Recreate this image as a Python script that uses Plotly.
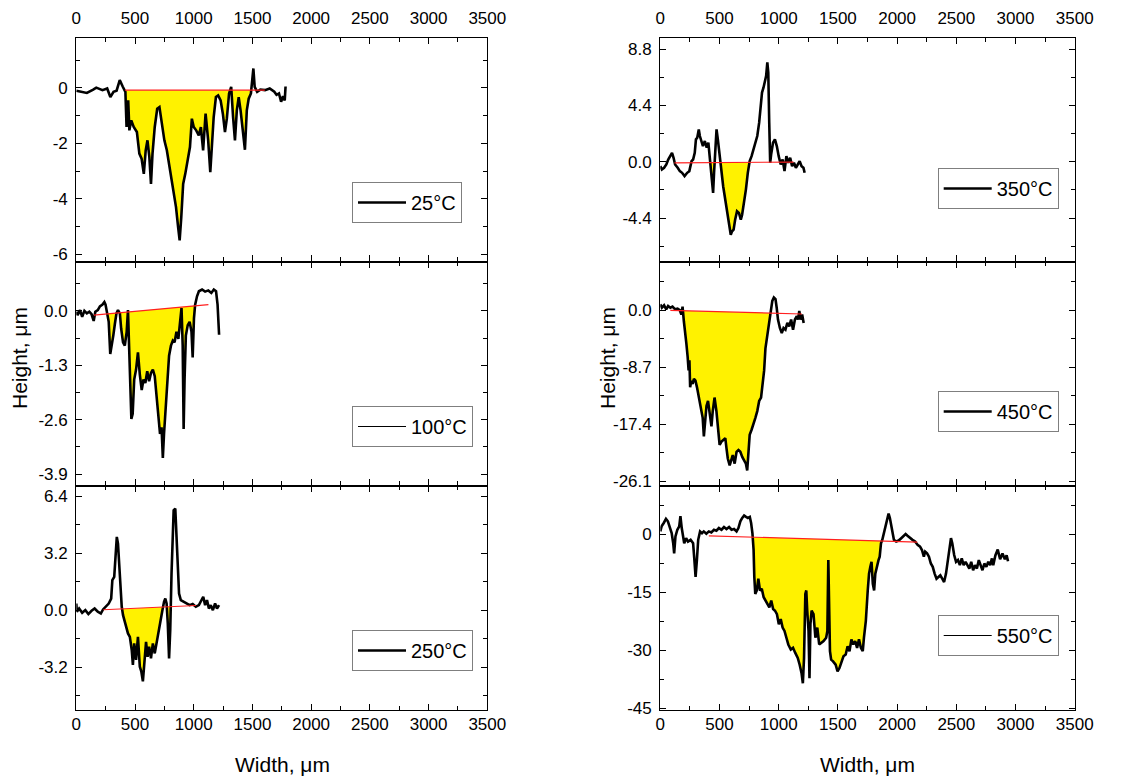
import numpy as np
import plotly.graph_objects as go

# ---------------- data ----------------
x_ticks = [0, 500, 1000, 1500, 2000, 2500, 3000, 3500]
x_tick_labels = ["0", "500", "1000", "1500", "2000", "2500", "3000", "3500"]

temperatures = ["25°C", "100°C", "250°C", "350°C", "450°C", "550°C"]

profile_25c = [(0,-0.10),(37,-0.14),(90,-0.18),(144,-0.06),(170,0.01),(223,-0.08),(263,-0.02),(290,-0.33),(317,-0.14),(343,-0.10),
    (370,0.28),(396,0.04),(418,-0.14),(428,-1.41),(442,-0.45),(452,-1.53),(468,-1.17),(489,-1.41),(516,-1.59),(537,-2.37),
    (556,-2.55),(575,-3.10),(591,-2.25),(606,-1.89),(622,-2.49),(636,-3.46),(649,-2.37),(668,-1.41),(689,-0.75),(708,-0.69),
    (729,-1.23),(750,-1.89),(771,-2.25),(795,-2.86),(822,-3.58),(849,-4.30),(867,-5.02),(880,-5.50),(894,-4.66),(910,-3.46),
    (928,-3.10),(947,-2.61),(968,-2.13),(984,-1.11),(1000,-1.41),(1021,-1.53),(1043,-1.71),(1061,-1.41),(1080,-2.25),(1101,-0.93),
    (1123,-1.89),(1141,-3.04),(1154,-2.01),(1170,-1.05),(1189,-0.33),(1208,-0.27),(1229,-0.45),(1248,-0.93),(1266,-1.59),(1282,-1.11),
    (1301,-0.20),(1319,0.04),(1335,-1.05),(1351,-1.89),(1367,-0.81),(1383,-0.33),(1399,-0.81),(1415,-1.41),(1436,-2.23),(1452,-0.81),
    (1468,-0.39),(1487,-0.20),(1500,0.28),(1508,0.70),(1519,0.04),(1540,-0.14),(1567,-0.06),(1607,-0.08),(1647,-0.02),(1686,-0.14),
    (1705,-0.25),(1726,-0.20),(1744,-0.50),(1760,-0.30),(1775,-0.45),(1782,0.05)]
baseline_25c = [(415, -0.08), (1605, -0.08)]
pit_25c = [418, 1500]
yrange_25c = [-6.26, 1.80]
yticks_25c = [0, -2, -4, -6]
ytick_labels_25c = ["0", "-2", "-4", "-6"]
yminor_25c = 1.0

profile_100c = [(0,-0.02),(11,-0.10),(32,0.02),(50,-0.14),(69,0.00),(90,-0.06),(111,-0.02),(130,-0.08),(148,-0.24),(162,-0.02),
    (183,0.02),(201,0.11),(223,0.15),(239,0.21),(249,0.15),(262,-0.02),(276,-0.26),(289,-1.03),(302,-0.83),(315,-0.59),
    (329,-0.30),(342,-0.06),(355,0.02),(371,-0.06),(382,-0.42),(398,-0.75),(413,-0.83),(429,-0.50),(440,0.02),(451,-0.83),
    (461,-1.89),(469,-2.58),(480,-2.46),(493,-1.64),(509,-1.40),(525,-0.99),(541,-1.52),(557,-1.89),(572,-1.64),(588,-1.72),
    (604,-1.44),(620,-1.68),(636,-1.48),(652,-1.40),(668,-1.56),(684,-2.05),(700,-2.62),(713,-2.94),(726,-2.78),(737,-3.51),
    (747,-2.94),(758,-2.46),(774,-1.89),(790,-1.07),(806,-0.83),(822,-0.71),(837,-0.75),(853,-0.50),(869,-0.67),(885,-0.18),
    (896,0.07),(906,-0.83),(914,-2.82),(922,-1.64),(933,-0.59),(949,-0.34),(965,-0.26),(981,-0.50),(991,-1.11),(1002,-0.18),
    (1012,0.15),(1028,0.35),(1044,0.47),(1071,0.51),(1097,0.46),(1124,0.49),(1150,0.43),(1171,0.51),(1190,0.47),(1203,0.15),
    (1211,-0.50),(1216,-0.57)]
baseline_100c = [(150, -0.10), (1125, 0.15)]
pit_100c = [268, 1012]
yrange_100c = [-4.17, 1.18]
yticks_100c = [0.0, -1.3, -2.6, -3.9]
ytick_labels_100c = ["0.0", "-1.3", "-2.6", "-3.9"]
yminor_100c = 0.65

profile_250c = [(0,0.37),(5,-0.09),(24,0.09),(50,-0.15),(77,0.00),(103,-0.22),(130,-0.04),(156,0.09),(183,-0.09),(209,-0.19),
    (228,0.04),(249,0.19),(276,0.37),(297,0.65),(307,1.68),(323,1.87),(334,3.36),(345,4.11),(355,3.74),(366,2.62),
    (376,1.12),(387,0.19),(398,-0.28),(408,-0.56),(424,-0.93),(440,-1.31),(456,-1.50),(472,-2.24),(482,-3.08),(493,-1.87),
    (509,-2.80),(525,-1.50),(541,-3.18),(554,-3.46),(567,-4.00),(580,-2.99),(594,-1.78),(607,-2.62),(620,-2.06),(636,-2.71),
    (652,-1.87),(668,-2.43),(684,-1.78),(700,-1.12),(716,-0.65),(731,-0.09),(747,0.47),(758,0.65),(769,0.37),(779,-0.75),
    (790,-2.71),(800,-1.12),(811,2.06),(822,4.86),(829,5.61),(843,5.70),(853,3.93),(864,1.87),(875,0.93),(890,0.56),
    (912,0.47),(938,0.37),(965,0.28),(991,0.34),(1018,0.19),(1044,0.28),(1065,0.56),(1081,0.75),(1097,0.28),(1113,0.56),
    (1129,0.09),(1145,0.28),(1163,0.00),(1182,0.37),(1198,0.09),(1216,0.28)]
baseline_250c = [(230, 0.02), (1020, 0.26)]
pit_250c = [380, 802]
yrange_250c = [-5.61, 7.00]
yticks_250c = [6.4, 3.2, 0.0, -3.2]
ytick_labels_250c = ["6.4", "3.2", "0.0", "-3.2"]
yminor_250c = 1.6

profile_350c = [(0,-0.34),(13,-0.60),(32,-0.47),(51,-0.21),(67,0.18),(83,0.44),(99,0.70),(112,0.31),(125,-0.21),(147,-0.47),
    (165,-0.73),(184,-0.86),(205,-1.12),(227,-0.86),(245,-0.73),(264,0.05),(277,0.18),(291,0.70),(301,1.75),(312,1.88),
    (325,2.53),(334,2.01),(344,1.62),(360,1.23),(376,1.62),(392,1.10),(406,1.49),(419,0.18),(430,-1.12),(438,-1.91),
    (446,-2.43),(454,-0.86),(464,1.23),(475,2.53),(486,1.75),(499,0.44),(515,-0.60),(531,-1.91),(547,-2.95),(563,-3.73),
    (579,-4.78),(595,-5.69),(606,-5.43),(619,-5.30),(632,-4.52),(648,-3.86),(664,-3.99),(680,-4.52),(691,-4.13),(707,-3.21),
    (723,-2.17),(739,-0.86),(755,0.05),(771,0.44),(787,0.97),(803,1.49),(819,2.01),(835,3.05),(846,4.36),(859,5.40),
    (872,5.80),(883,6.19),(894,6.71),(904,7.75),(912,6.97),(920,3.05),(928,-0.08),(936,0.57),(952,1.49),(968,1.75),
    (984,1.23),(1000,0.44),(1017,-0.21),(1033,0.18),(1049,-0.73),(1065,0.44),(1081,-0.08),(1097,0.31),(1113,-0.34),(1129,-0.08),
    (1145,-0.47),(1161,-0.21),(1177,0.05),(1193,-0.34),(1209,-0.47),(1219,-0.86)]
baseline_350c = [(120, -0.08), (1125, -0.02)]
pit_350c = [410, 762]
yrange_350c = [-7.78, 9.66]
yticks_350c = [8.8, 4.4, 0.0, -4.4]
ytick_labels_350c = ["8.8", "4.4", "0.0", "-4.4"]
yminor_350c = 2.2

profile_450c = [(0,0.93),(13,0.41),(32,0.78),(50,0.16),(66,0.67),(85,0.41),(103,0.57),(125,0.16),(146,0.26),(164,0.05),
    (178,-0.62),(188,0.57),(199,-1.66),(209,-2.95),(220,-5.03),(231,-7.10),(239,-9.17),(246,-7.62),(252,-11.76),(262,-10.73),
    (273,-11.24),(284,-10.47),(297,-10.73),(310,-11.76),(326,-13.32),(342,-14.35),(358,-16.42),(368,-19.27),(379,-16.42),(390,-14.61),
    (403,-13.83),(416,-15.39),(432,-17.72),(443,-15.39),(458,-13.32),(474,-15.39),(490,-18.50),(501,-20.57),(517,-20.05),(533,-19.79),
    (549,-19.53),(559,-21.09),(570,-22.64),(586,-23.68),(596,-23.16),(612,-22.12),(628,-23.42),(644,-21.61),(660,-21.35),(676,-21.61),
    (692,-22.38),(708,-22.90),(723,-23.42),(734,-24.46),(745,-21.61),(755,-19.02),(771,-18.24),(787,-17.46),(803,-16.42),(819,-15.39),
    (835,-13.83),(851,-13.32),(867,-10.73),(877,-9.17),(888,-5.80),(898,-4.51),(909,-2.95),(920,-1.14),(933,0.16),(946,1.45),
    (959,1.97),(973,1.71),(983,0.41),(994,-1.40),(1010,-2.69),(1026,-3.47),(1041,-2.69),(1057,-2.95),(1073,-1.92),(1089,-2.44),
    (1105,-1.40),(1121,-2.95),(1137,-1.40),(1153,-0.88),(1163,-1.40),(1174,-0.10),(1185,-1.40),(1198,-0.62),(1211,-1.92)]
baseline_450c = [(85, 0.00), (1195, -0.55)]
pit_450c = [190, 935]
yrange_450c = [-26.76, 7.47]
yticks_450c = [0.0, -8.7, -17.4, -26.1]
ytick_labels_450c = ["0.0", "-8.7", "-17.4", "-26.1"]
yminor_450c = 4.35

profile_550c = [(0,0.70),(11,2.00),(29,2.88),(48,3.92),(64,3.31),(80,1.57),(96,0.26),(109,-2.35),(117,-4.97),(128,-0.61),
    (144,1.13),(160,2.00),(170,4.62),(181,1.57),(192,-0.61),(202,-2.35),(218,-1.05),(234,-1.92),(256,-1.48),(277,-2.35),
    (288,-6.71),(298,-11.07),(309,-6.71),(320,-1.48),(336,0.70),(352,0.26),(367,0.70),(389,0.09),(410,0.70),(431,0.44),
    (453,1.13),(474,0.87),(495,1.57),(517,1.13),(538,1.83),(559,1.31),(581,1.83),(602,1.13),(623,1.31),(644,0.70),
    (660,1.57),(676,3.31),(692,4.18),(708,4.80),(724,4.45),(740,4.18),(756,4.45),(767,2.88),(778,0.26),(788,-4.10),
    (794,-11.07),(802,-15.43),(815,-14.56),(828,-11.51),(842,-14.56),(857,-14.12),(873,-16.30),(889,-17.17),(905,-18.05),(921,-18.92),
    (937,-17.17),(953,-19.35),(969,-19.79),(985,-20.66),(1001,-23.28),(1017,-21.97),(1033,-24.15),(1049,-25.02),(1065,-26.77),(1081,-28.51),
    (1102,-29.82),(1121,-29.38),(1140,-30.69),(1161,-32.00),(1177,-33.74),(1193,-35.92),(1204,-38.53),(1214,-32.00),(1225,-15.43),(1233,-14.56),
    (1241,-19.79),(1252,-25.02),(1260,-37.23),(1268,-23.28),(1278,-19.79),(1294,-20.66),(1310,-26.77),(1326,-24.15),(1342,-28.51),(1361,-28.08),
    (1379,-27.64),(1401,-26.77),(1411,-25.02),(1419,-6.71),(1425,-14.56),(1433,-30.25),(1443,-32.43),(1459,-32.87),(1481,-33.74),(1497,-35.48),
    (1513,-34.61),(1529,-32.87),(1547,-31.56),(1566,-31.13),(1582,-28.95),(1598,-30.25),(1614,-27.20),(1630,-28.51),(1646,-27.64),(1662,-29.38),
    (1678,-27.20),(1694,-29.38),(1710,-30.25),(1720,-26.77),(1736,-22.41),(1752,-14.56),(1763,-10.20),(1774,-8.46),(1784,-7.15),(1795,-12.82),
    (1806,-14.56),(1816,-10.20),(1827,-8.46),(1843,-6.71),(1853,-5.84),(1864,-2.35),(1875,-1.48),(1885,-0.17),(1896,1.13),(1906,2.88),
    (1917,4.62),(1928,5.32),(1939,4.18),(1949,2.62),(1960,0.26),(1973,-1.48),(1992,-1.92),(2013,-1.66),(2035,-1.05),(2056,-0.44),
    (2072,0.00),(2088,-0.44),(2109,-1.05),(2130,-1.48),(2152,-1.92),(2173,-2.79),(2194,-3.23),(2210,-4.10),(2226,-5.84),(2237,-4.53),
    (2253,-4.97),(2269,-5.84),(2285,-7.59),(2301,-8.46),(2317,-10.20),(2333,-11.51),(2349,-11.07),(2365,-10.64),(2381,-11.51),(2397,-12.38),
    (2413,-10.20),(2429,-6.71),(2445,-2.35),(2455,-1.05),(2466,-2.35),(2482,-5.41),(2498,-7.15),(2514,-6.71),(2530,-8.02),(2546,-6.28),
    (2562,-8.02),(2578,-7.15),(2594,-8.02),(2610,-8.89),(2626,-7.15),(2642,-9.33),(2658,-8.02),(2674,-8.89),(2690,-6.71),(2706,-8.02),
    (2721,-9.33),(2737,-7.59),(2754,-8.46),(2770,-7.15),(2786,-8.02),(2801,-6.28),(2812,-8.02),(2830,-5.50),(2850,-4.00),(2870,-6.50),
    (2890,-5.00),(2910,-6.50),(2925,-5.50),(2937,-7.00)]
baseline_550c = [(410, -0.45), (2170, -2.05)]
pit_550c = [780, 1890]
yrange_550c = [-45.44, 12.56]
yticks_550c = [0, -15, -30, -45]
ytick_labels_550c = ["0", "-15", "-30", "-45"]
yminor_550c = 7.5

# ---------------- styling / layout ----------------
FONT = "Liberation Sans, Arial, sans-serif"
YELLOW = "#FFF200"
TICK_FONT = 17
panels = [
    (profile_25c, baseline_25c, pit_25c, yrange_25c, yticks_25c, ytick_labels_25c, yminor_25c, 2.6),
    (profile_100c, baseline_100c, pit_100c, yrange_100c, yticks_100c, ytick_labels_100c, yminor_100c, 1.2),
    (profile_250c, baseline_250c, pit_250c, yrange_250c, yticks_250c, ytick_labels_250c, yminor_250c, 2.6),
    (profile_350c, baseline_350c, pit_350c, yrange_350c, yticks_350c, ytick_labels_350c, yminor_350c, 2.6),
    (profile_450c, baseline_450c, pit_450c, yrange_450c, yticks_450c, ytick_labels_450c, yminor_450c, 2.6),
    (profile_550c, baseline_550c, pit_550c, yrange_550c, yticks_550c, ytick_labels_550c, yminor_550c, 1.2),
]

W, H = 1136, 780
col_x = [(76.3, 487.3), (660.3, 1074.7)]
row_y = [(38, 261.5), (261.5, 485.5), (485.5, 710)]
legend_pos = [(352, 182), (352, 406), (352, 630), (937.7, 168), (937.7, 391), (937.7, 615)]


def below_fill(prof, base, pit):
    px = np.array([p[0] for p in prof], float)
    py = np.array([p[1] for p in prof], float)
    (x0, y0), (x1, y1) = base
    a, b = pit
    bl = lambda x: y0 + (y1 - y0) * (x - x0) / (x1 - x0)
    xs = [a] + [x for x in px if a < x < b] + [b]
    ys = list(np.interp(xs, px, py))
    fx, fy = [], []
    for i in range(len(xs)):
        if i > 0:
            d0 = ys[i - 1] - bl(xs[i - 1])
            d1 = ys[i] - bl(xs[i])
            if d0 * d1 < 0:
                t = d0 / (d0 - d1)
                xc = xs[i - 1] + t * (xs[i] - xs[i - 1])
                fx.append(xc)
                fy.append(bl(xc))
        fx.append(xs[i])
        fy.append(min(ys[i], bl(xs[i])))
    return fx, fy, [bl(x) for x in fx]


fig = go.Figure()
layout = dict(
    template="none",
    width=W, height=H, autosize=False, margin=dict(l=0, r=0, t=0, b=0, pad=0),
    paper_bgcolor="white", plot_bgcolor="white",
    font=dict(family=FONT, size=TICK_FONT, color="black"),
    showlegend=True,
)

for i, (prof, base, pit, yr, ytv, ytt, ymin, legw) in enumerate(panels):
    col, row = divmod(i, 3)
    xa = "x" if i == 0 else f"x{i+1}"
    ya = "y" if i == 0 else f"y{i+1}"
    lg = "legend" if i == 0 else f"legend{i+1}"
    fx, fy, fb = below_fill(prof, base, pit)
    fig.add_trace(go.Scatter(x=fx, y=fb, mode="lines", line=dict(width=0, color="rgba(0,0,0,0)"),
                             hoverinfo="skip", showlegend=False, xaxis=xa, yaxis=ya))
    fig.add_trace(go.Scatter(x=fx, y=fy, mode="lines", line=dict(width=0, color="rgba(0,0,0,0)"),
                             fill="tonexty", fillcolor=YELLOW, hoverinfo="skip", showlegend=False,
                             xaxis=xa, yaxis=ya))
    fig.add_trace(go.Scatter(x=[p[0] for p in prof], y=[p[1] for p in prof], mode="lines",
                             line=dict(color="black", width=2.6), name=temperatures[i],
                             showlegend=False, xaxis=xa, yaxis=ya))
    fig.add_trace(go.Scatter(x=[base[0][0], base[1][0]], y=[base[0][1], base[1][1]], mode="lines",
                             line=dict(color="#FF2020", width=1.2), hoverinfo="skip", showlegend=False,
                             xaxis=xa, yaxis=ya))
    # legend entry
    fig.add_trace(go.Scatter(x=[None], y=[None], mode="lines", line=dict(color="black", width=legw),
                             name=temperatures[i], legend=lg, xaxis=xa, yaxis=ya))

    x0p, x1p = col_x[col]
    ytop, ybot = row_y[row]
    xdom = [x0p / W, x1p / W]
    ydom = [1 - ybot / H, 1 - ytop / H]
    common = dict(showline=True, linecolor="black", linewidth=1.3, mirror="ticks",
                  ticks="inside", ticklen=6, tickwidth=1.2, tickcolor="black",
                  showgrid=False, zeroline=False, fixedrange=True, automargin=False,
                  tickfont=dict(family=FONT, size=TICK_FONT, color="black"))
    xax = dict(common, domain=xdom, anchor=ya, range=[0, 3500],
               tickmode="array", tickvals=x_ticks, ticktext=x_tick_labels,
               minor=dict(tickmode="linear", tick0=0, dtick=250, ticks="inside", ticklen=4,
                          tickwidth=1.2, tickcolor="black", showgrid=False))
    if row == 0:
        xax.update(side="top", showticklabels=True, ticklabelstandoff=6)
    elif row == 1:
        xax.update(side="bottom", showticklabels=False)
    else:
        xax.update(side="bottom", showticklabels=True, ticklabelstandoff=-2)
    yax = dict(common, domain=ydom, anchor=xa, range=yr,
               tickmode="array", tickvals=ytv, ticktext=ytt, ticklabelstandoff=4,
               minor=dict(tickmode="linear", tick0=0, dtick=ymin, ticks="inside", ticklen=4,
                          tickwidth=1.2, tickcolor="black", showgrid=False))
    layout["xaxis" if i == 0 else f"xaxis{i+1}"] = xax
    layout["yaxis" if i == 0 else f"yaxis{i+1}"] = yax

    lx, ly = legend_pos[i]
    layout[lg] = dict(x=lx / W, y=1 - ly / H, xanchor="left", yanchor="top",
                      bgcolor="white", bordercolor="#7f7f7f", borderwidth=1,
                      font=dict(family=FONT, size=20, color="black"), itemwidth=48,
                      tracegroupgap=0)

fig.update_layout(**layout)

for xc in (20, 608):
    fig.add_annotation(text="Height, μm", x=xc / W, y=1 - 358 / H, xref="paper", yref="paper",
                       xanchor="center", yanchor="middle",
                       textangle=-90, showarrow=False, font=dict(family=FONT, size=21, color="black"))
for xc in (282, 867):
    fig.add_annotation(text="Width, μm", x=xc / W, y=1 - 764 / H, xref="paper", yref="paper",
                       xanchor="center", yanchor="middle",
                       showarrow=False, font=dict(family=FONT, size=21, color="black"))

fig.write_html("out.html")
